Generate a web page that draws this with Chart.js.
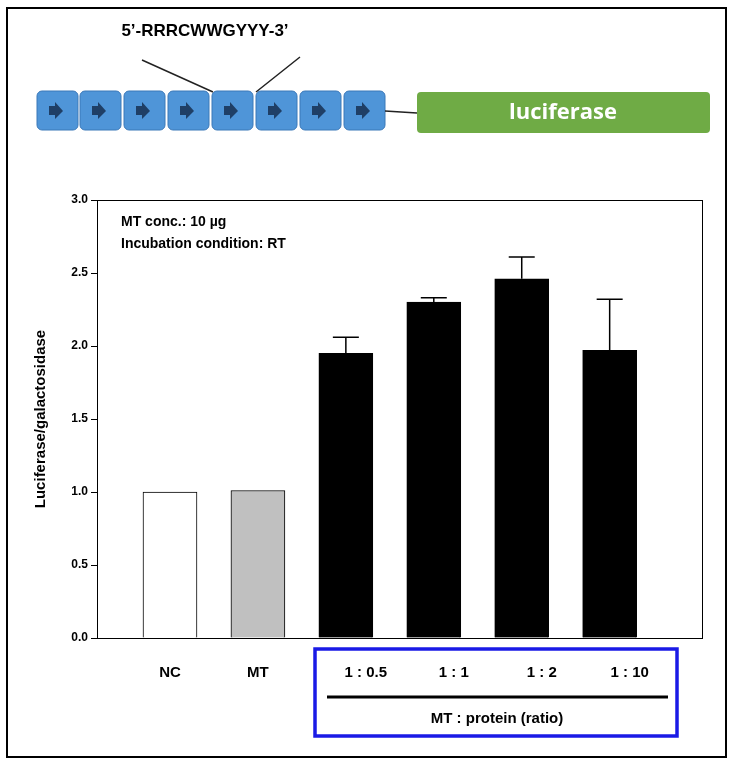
<!DOCTYPE html>
<html>
<head>
<meta charset="utf-8">
<script src="https://cdn.jsdelivr.net/npm/chart.js@4"></script>
<style>
  body { margin: 0; background: #fff; }
  #wrap { width: 733px; height: 764px; position: relative; }
</style>
</head>
<body>
<div id="wrap"><canvas id="bar-chart"></canvas></div>
<script>
const categories = ['NC', 'MT', '1 : 0.5', '1 : 1', '1 : 2', '1 : 10'];
const values = [1.0, 1.01, 1.95, 2.3, 2.46, 1.97];
const errors = [0, 0, 0.11, 0.03, 0.15, 0.35];
const barColors = ['#ffffff', '#c0c0c0', '#000000', '#000000', '#000000', '#000000'];
const yTicks = [0, 0.5, 1, 1.5, 2, 2.5, 3];

const FONT = 'Arial, "Liberation Sans", sans-serif';

// diagram, frame, x labels, error bars
const decor = {
  id: 'decor',
  afterDatasetsDraw(chart) {
    const ctx = chart.ctx;
    const x = chart.scales.x, y = chart.scales.y;
    ctx.save();
    // error bars (upper only)
    ctx.strokeStyle = '#000';
    ctx.lineWidth = 1.5;
    values.forEach((v, i) => {
      if (!errors[i]) return;
      const px = x.getPixelForValue(i);
      const top = y.getPixelForValue(v + errors[i]);
      ctx.beginPath();
      ctx.moveTo(px, y.getPixelForValue(v));
      ctx.lineTo(px, top);
      ctx.moveTo(px - 13, top);
      ctx.lineTo(px + 13, top);
      ctx.stroke();
    });
    // plot box
    const a = chart.chartArea;
    ctx.lineWidth = 1;
    ctx.strokeRect(a.left + 0.5, a.top + 0.5, a.right - a.left, a.bottom - a.top);
    // annotation
    ctx.fillStyle = '#000';
    ctx.font = 'bold 14px ' + FONT;
    ctx.textAlign = 'left';
    ctx.textBaseline = 'middle';
    ctx.fillText('MT conc.: 10 µg', a.left + 24, 222);
    ctx.fillText('Incubation condition: RT', a.left + 24, 244);
    // x labels
    ctx.font = 'bold 15px ' + FONT;
    ctx.textAlign = 'center';
    categories.forEach((c, i) => {
      ctx.fillText(c, x.getPixelForValue(i) + (i > 1 ? 20 : 0), 673);
    });
    // group line, label, blue box
    ctx.lineWidth = 3;
    ctx.beginPath();
    ctx.moveTo(327, 697); ctx.lineTo(668, 697);
    ctx.stroke();
    ctx.fillText('MT : protein (ratio)', 497, 719);
    ctx.strokeStyle = '#1a1ae6';
    ctx.lineWidth = 3.5;
    ctx.strokeRect(315, 649, 362, 87);
    // outer frame
    ctx.strokeStyle = '#000';
    ctx.lineWidth = 2;
    ctx.strokeRect(7, 8, 719, 749);
    // promoter boxes
    const boxes = [37, 80, 124, 168, 212, 256, 300, 344];
    ctx.lineWidth = 1;
    boxes.forEach(bx => {
      ctx.fillStyle = '#4f95d8';
      ctx.strokeStyle = '#3b78b8';
      ctx.beginPath();
      ctx.roundRect(bx, 91, 41, 39, 5);
      ctx.fill(); ctx.stroke();
      ctx.fillStyle = '#1f3f66';
      ctx.beginPath();
      ctx.moveTo(bx + 12, 106); ctx.lineTo(bx + 18, 106); ctx.lineTo(bx + 18, 102);
      ctx.lineTo(bx + 26, 111); ctx.lineTo(bx + 18, 119); ctx.lineTo(bx + 18, 115);
      ctx.lineTo(bx + 12, 115); ctx.closePath();
      ctx.fill();
    });
    ctx.strokeStyle = '#222';
    ctx.lineWidth = 1.5;
    ctx.beginPath();
    ctx.moveTo(385, 111); ctx.lineTo(417, 113);
    ctx.moveTo(142, 60); ctx.lineTo(213, 92);
    ctx.moveTo(300, 57); ctx.lineTo(256, 92);
    ctx.stroke();
    ctx.fillStyle = '#6fab45';
    ctx.beginPath();
    ctx.roundRect(417, 92, 293, 41, 4);
    ctx.fill();
    ctx.fillStyle = '#fff';
    ctx.font = 'bold 22px "Open Sans", sans-serif';
    ctx.fillText('luciferase', 563, 113);
    ctx.fillStyle = '#000';
    ctx.font = 'bold 17px "Liberation Sans Narrow", ' + FONT;
    ctx.fillText('5’-RRRCWWGYYY-3’', 205, 31);
    ctx.restore();
  }
};

new Chart(document.getElementById('bar-chart'), {
  type: 'bar',
  data: {
    datasets: [
      {
        data: values.map((v, i) => ({ x: i, y: v })),
        backgroundColor: barColors,
        borderColor: '#000',
        borderWidth: 1,
        barThickness: 54,
      },
    ],
  },
  options: {
    responsive: true,
    maintainAspectRatio: false,
    animation: false,
    layout: { padding: { left: 28, top: 200, right: 31, bottom: 126 } },
    scales: {
      x: {
        type: 'linear',
        offset: false,
        min: -0.83,
        max: 6.05,
        display: false,
      },
      y: {
        min: 0,
        max: 3,
        afterBuildTicks: (s) => (s.ticks = yTicks.map((v) => ({ value: v }))),
        afterFit: (s) => (s.width = 69),
        grid: { drawOnChartArea: false, drawTicks: true, tickLength: 6, color: '#000' },
        border: { color: '#000' },
        ticks: {
          color: '#000',
          font: { family: FONT, size: 12, weight: 'bold' },
          callback: (v) => v.toFixed(1),
        },
        title: {
          display: true,
          text: 'Luciferase/galactosidase',
          color: '#000',
          font: { family: FONT, size: 15, weight: 'bold' },
        },
      },
    },
    plugins: { legend: { display: false }, tooltip: { enabled: false } },
  },
  plugins: [decor],
});
</script>
</body>
</html>
